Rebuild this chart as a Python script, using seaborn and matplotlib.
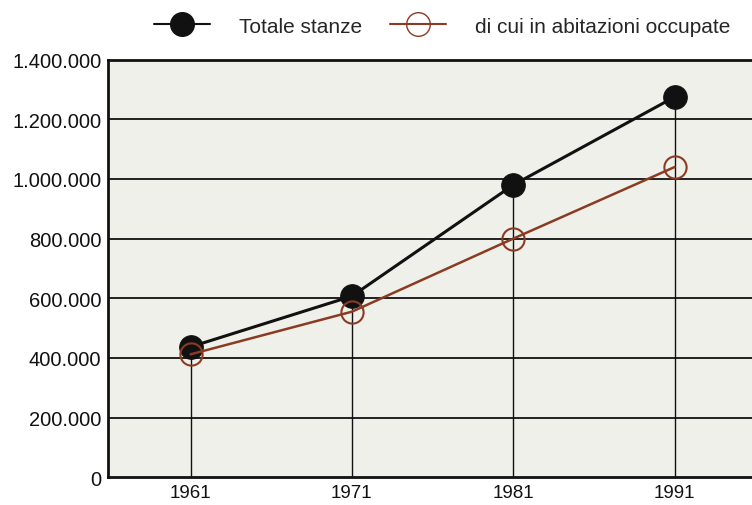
import matplotlib
matplotlib.use('Agg')
import matplotlib.pyplot as plt
import seaborn as sns
import pandas as pd
from matplotlib.ticker import FuncFormatter
from matplotlib.lines import Line2D

# dati
anni = [1961, 1971, 1981, 1991]
totale_stanze = [437000, 607000, 980000, 1275000]
abitazioni_occupate = [412000, 555000, 800000, 1040000]
y_ticks = [0, 200000, 400000, 600000, 800000, 1000000, 1200000, 1400000]

BLACK = '#111111'
BROWN = '#8a3b22'

sns.set_style('white')
plt.rcParams['font.family'] = ['Liberation Sans', 'DejaVu Sans']

df = pd.DataFrame({
    'anno': anni * 2,
    'valore': totale_stanze + abitazioni_occupate,
    'serie': ['Totale stanze'] * 4 + ['di cui in abitazioni occupate'] * 4,
})

fig, ax = plt.subplots(figsize=(7.52, 5.06), dpi=100)
fig.subplots_adjust(left=0.144, right=1.0, top=0.88, bottom=0.055)
ax.set_facecolor('#f0f0ea')

# griglia orizzontale e linee verticali
for yt in y_ticks[1:]:
    ax.axhline(yt, color=BLACK, lw=1.3, zorder=1)
ax.vlines(anni, 0, totale_stanze, color=BLACK, lw=1.0, zorder=1)

sns.lineplot(data=df[df['serie'] == 'Totale stanze'], x='anno', y='valore',
             color=BLACK, lw=2.2, marker='o', markersize=17,
             markerfacecolor=BLACK, markeredgecolor=BLACK, ax=ax, zorder=3)
sns.lineplot(data=df[df['serie'] != 'Totale stanze'], x='anno', y='valore',
             color=BROWN, lw=1.8, marker='o', markersize=16,
             markerfacecolor='none', markeredgecolor=BROWN, markeredgewidth=1.5,
             ax=ax, zorder=4)

ax.set_xlim(1955.9, 1995.8)
ax.set_ylim(0, 1400000)
ax.set_xticks(anni)
ax.set_yticks(y_ticks)
ax.yaxis.set_major_formatter(FuncFormatter(lambda v, p: f"{int(v):,}".replace(',', '.')))
ax.tick_params(axis='y', labelsize=14.5, colors=BLACK, length=0, pad=5)
ax.tick_params(axis='x', labelsize=13.5, colors=BLACK, length=0, pad=5)
ax.set_xlabel('')
ax.set_ylabel('')

for side in ['top', 'left', 'bottom']:
    ax.spines[side].set_color(BLACK)
    ax.spines[side].set_linewidth(2)
ax.spines['right'].set_visible(False)

handles = [
    Line2D([], [], color=BLACK, lw=1.5, marker='o', markersize=17, markerfacecolor=BLACK),
    Line2D([], [], color=BROWN, lw=1.5, marker='o', markersize=17,
           markerfacecolor='none', markeredgecolor=BROWN),
]
fig.legend(handles, ['Totale stanze', 'di cui in abitazioni occupate'],
           loc='upper center', bbox_to_anchor=(0.588, 0.99), ncol=2, frameon=False,
           fontsize=15, handlelength=2.7, handletextpad=1.4, columnspacing=1.3,
           borderaxespad=0.2)

plt.savefig('out.png', dpi=100)
